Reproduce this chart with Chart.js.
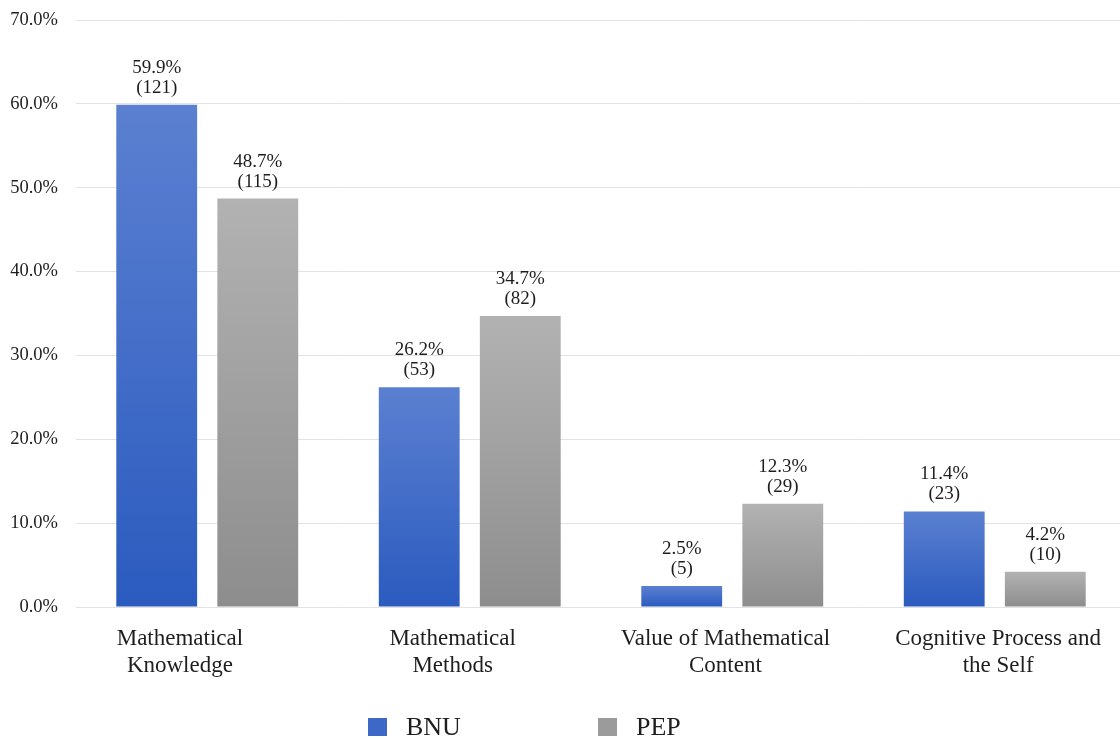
<!DOCTYPE html>
<html>
<head>
<meta charset="utf-8">
<script src="https://cdn.jsdelivr.net/npm/chart.js@4/dist/chart.umd.min.js"></script>
<style>
  html, body { margin: 0; padding: 0; background: #ffffff; overflow: hidden; }
  #wrap { width: 1120px; height: 738px; overflow: hidden; }
  canvas { display: block; }
</style>
</head>
<body>
<div id="wrap"><canvas id="chart" width="1126" height="738"></canvas></div>
<script>
// Categories (two-line axis labels)
const categories = [
  ['Mathematical', 'Knowledge'],
  ['Mathematical', 'Methods'],
  ['Value of Mathematical', 'Content'],
  ['Cognitive Process and', 'the Self']
];

// Share of items (%) and item counts per publisher
const bnuPercent = [59.9, 26.2, 2.5, 11.4];
const bnuCounts  = [121, 53, 5, 23];
const pepPercent = [48.7, 34.7, 12.3, 4.2];
const pepCounts  = [115, 82, 29, 10];

// Y axis range and step (%)
const yMin = 0, yMax = 70, yStep = 10;

const SERIF = '"Liberation Serif", "Times New Roman", serif';

// Vertical gradient for each bar, lighter at the top
function barGradient(top, bottom) {
  return function (context) {
    const chart = context.chart;
    const yScale = chart.scales.y;
    if (!chart.chartArea || !yScale || context.type !== 'data') return bottom;
    const v = context.raw;
    const y0 = yScale.getPixelForValue(v);
    const y1 = yScale.getPixelForValue(0);
    if (!isFinite(y0) || !isFinite(y1) || y0 === y1) return bottom;
    const g = chart.ctx.createLinearGradient(0, y0, 0, y1);
    g.addColorStop(0, top);
    g.addColorStop(1, bottom);
    return g;
  };
}

// Two-line value labels above every bar: "xx.x%" and "(n)"
const valueLabels = {
  id: 'valueLabels',
  afterDatasetsDraw(chart) {
    const ctx = chart.ctx;
    ctx.save();
    ctx.font = '19px ' + SERIF;
    ctx.fillStyle = '#1e1e1e';
    ctx.textAlign = 'center';
    ctx.textBaseline = 'middle';
    chart.data.datasets.forEach((ds, di) => {
      chart.getDatasetMeta(di).data.forEach((bar, i) => {
        ctx.fillText(ds.data[i].toFixed(1) + '%', bar.x, bar.y - 37);
        ctx.fillText('(' + ds.counts[i] + ')', bar.x, bar.y - 17);
      });
    });
    ctx.restore();
  }
};

// Legend row at the bottom: square swatch followed by the series name
const bottomLegend = {
  id: 'bottomLegend',
  afterDraw(chart) {
    const ctx = chart.ctx;
    const starts = [368, 598];
    const y = 727;
    ctx.save();
    ctx.font = '26px ' + SERIF;
    ctx.textBaseline = 'middle';
    ctx.textAlign = 'left';
    chart.data.datasets.forEach((ds, i) => {
      const x = starts[i];
      ctx.fillStyle = ds.legendColor;
      ctx.fillRect(x, y - 9, 19, 18);
      ctx.fillStyle = '#1e1e1e';
      ctx.fillText(ds.label, x + 38, y + 1);
    });
    ctx.restore();
  }
};

new Chart(document.getElementById('chart'), {
  type: 'bar',
  data: {
    labels: categories,
    datasets: [
      {
        label: 'BNU',
        data: bnuPercent,
        counts: bnuCounts,
        backgroundColor: barGradient('#5b80d1', '#2b5bbf'),
        legendColor: '#3d68c8',
        borderWidth: 0,
        categoryPercentage: 0.77,
        barPercentage: 0.8
      },
      {
        label: 'PEP',
        data: pepPercent,
        counts: pepCounts,
        backgroundColor: barGradient('#b2b2b2', '#8d8d8d'),
        legendColor: '#9b9b9b',
        borderWidth: 0,
        categoryPercentage: 0.77,
        barPercentage: 0.8
      }
    ]
  },
  options: {
    responsive: false,
    animation: false,
    layout: { padding: { top: 20, left: 0, right: 0, bottom: 56 } },
    plugins: {
      legend: { display: false },
      tooltip: { enabled: false }
    },
    scales: {
      // category axis that places the bars; its labels come from the axis below
      x: {
        display: false
      },
      // label axis: category names on a slightly wider spacing than the bar groups
      xl: {
        type: 'linear',
        position: 'bottom',
        offset: false,
        min: 0.119,
        max: 3.969,
        grid: { display: false, drawTicks: false, offset: false },
        border: { display: false },
        afterBuildTicks(scale) {
          scale.ticks = categories.map((c, i) => ({ value: i + 0.5 }));
        },
        ticks: {
          color: '#1e1e1e',
          font: { family: SERIF, size: 23, lineHeight: 1.2 },
          padding: 18,
          maxRotation: 0,
          autoSkip: false,
          callback: (v, i) => categories[i]
        },
        afterFit(scale) {
          scale.height = 75;
          scale.paddingLeft = 0;
          scale.paddingRight = 0;
        }
      },
      y: {
        min: yMin,
        max: yMax,
        grid: { color: '#e2e2e2', lineWidth: 1, drawTicks: false },
        border: { display: false },
        ticks: {
          stepSize: yStep,
          color: '#1e1e1e',
          font: { family: SERIF, size: 18.5 },
          padding: 18,
          callback: (v) => Number(v).toFixed(1) + '%'
        },
        afterFit(scale) {
          scale.width = 76;
          scale.paddingTop = 0;
          scale.paddingBottom = 0;
        }
      }
    }
  },
  plugins: [valueLabels, bottomLegend]
});
</script>
</body>
</html>
